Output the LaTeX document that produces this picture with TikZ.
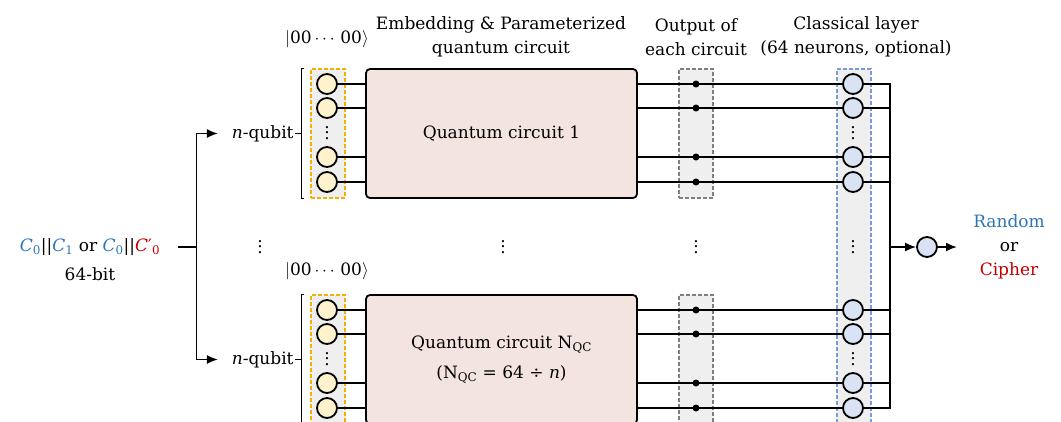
\documentclass[tikz,border=0pt]{standalone}
\usepackage{fontspec}
\usepackage{amsmath}
\setmainfont{DejaVu Serif}
\usetikzlibrary{arrows.meta,positioning}
\definecolor{qubitcolor}{HTML}{FFF2CC}
\definecolor{qubitdash}{HTML}{F5B000}
\definecolor{colcolor}{HTML}{EFEFEF}
\definecolor{outdash}{HTML}{7F7F7F}
\definecolor{neuroncolor}{HTML}{DAE3F3}
\definecolor{neurondash}{HTML}{7A9BD6}
\definecolor{circuitcolor}{HTML}{F4E4E0}
\definecolor{randcolor}{HTML}{2E75B6}
\definecolor{ciphcolor}{HTML}{C00000}
\newcommand{\colvdots}{\vbox{\baselineskip5.5pt\lineskiplimit0pt\hbox{.}\hbox{.}\hbox{.}}}
\newcommand{\cvar}[1]{\textit{C}\textsubscript{#1}}

\begin{document}
\begin{tikzpicture}[x=1pt, y=-1pt, line width=1.8pt,
  every node/.style={font=\fontsize{17}{24}\selectfont},
  qbit/.style={circle, draw, fill=qubitcolor, minimum size=20pt, inner sep=0pt},
  neuron/.style={qbit, fill=neuroncolor},
  col/.style={draw, fill=colcolor, line width=1.1pt, dash pattern=on 4pt off 2pt,
              minimum width=34pt, minimum height=129pt, inner sep=0pt},
  qc/.style={draw, fill=circuitcolor, rounded corners=4pt, minimum width=271pt,
             minimum height=129pt, align=center},
  outdot/.style={circle, fill, inner sep=0pt, minimum size=7pt},
  head/.style={align=center},
  arr/.style={-{Latex[length=11pt,width=9pt]}},
]
  \clip (0,0) rectangle (1061,421);

  % ── Headings ────────────────────
  \node[head] (hqc) at (501,37) {Embedding \& Parameterized\\quantum circuit};
  \node[head] (hout) at (696,37) {Output of\\each circuit};
  \node[head] (hcl) at (856,37) {Classical layer\\(64 neurons, optional)};

  % ── Columns and circuits ────────
  \node[col, draw=neurondash, minimum height=362pt] (nb) at (854,250) {};
  \node[col, draw=qubitdash] (yb1) at (328,133.5) {};
  \node[col, draw=qubitdash] (yb2) at (328,359.5) {};
  \node[col, draw=outdash] (ob1) at (696,133.5) {};
  \node[col, draw=outdash] (ob2) at (696,359.5) {};
  \node[qc] (qc1) at (501.5,133.5) {Quantum circuit 1};
  \node[qc] (qc2) at (501.5,359.5)
        {Quantum circuit N\textsubscript{QC}\\[6pt](N\textsubscript{QC} = 64 ÷ \textit{n})};
  \node (ket1) at (327,39) {$|$00\,$\cdots$\,00$\rangle$};
  \node (ket2) at (327,271) {$|$00\,$\cdots$\,00$\rangle$};

  % ── Qubits, wires, neurons ──────
  \coordinate (bus) at (890,247);
  \foreach \g/\t in {1/69, 2/295} {
    \foreach \i/\dy in {1/15, 2/39, 3/88, 4/113} {
      \node[qbit] (q\g\i) at (327,\t+\dy) {};
      \node[neuron] (n\g\i) at (853,\t+\dy) {};
      \draw (q\g\i) -- (q\g\i -| qc\g.west);
      \draw (q\g\i -| qc\g.east) -- (n\g\i);
      \node[outdot] (d\g\i) at (q\g\i -| ob\g) {};
      \draw (n\g\i) -- (n\g\i -| bus);
    }
    \node (vq\g) at (327,\t+64) {\colvdots};
    \node (vn\g) at (853,\t+64) {\colvdots};
    \draw[line width=1.4pt] ([xshift=-6pt]yb\g.north west) -- ++(-3,0)
          |- ([xshift=-6pt]yb\g.south west);
    \draw[line width=1.4pt] ([xshift=-9pt]yb\g.west) -- ++(-6,0);
    \node[anchor=east, inner sep=1pt] (nq\g) at ([xshift=-15pt]yb\g.west) {\textit{n}-qubit};
  }
  \draw[line cap=rect] (bus |- n11) -- (bus |- n24);

  % ── Input ───────────────────────
  \node (inp) at (90,247) {\textcolor{randcolor}{\cvar{0}}||\textcolor{randcolor}{\cvar{1}} or
        \textcolor{randcolor}{\cvar{0}}||\textcolor{ciphcolor}{\textit{C}′\textsubscript{0}}};
  \node (bits) at (90,274) {64-bit};
  \coordinate (split) at (196.5,247);
  \draw ([xshift=14pt]inp.east) -- (split);
  \draw[arr, shorten >=12pt] (split) |- (nq1.west);
  \draw[arr, shorten >=12pt] (split) |- (nq2.west);

  % ── Middle dots ─────────────────
  \node (vin) at (260,247) {\colvdots};
  \node (vqc) at (503,247) {\colvdots};
  \node (vout) at (696,247) {\colvdots};
  \node (vnn) at (853,247) {\colvdots};

  % ── Output ──────────────────────
  \node[neuron] (outn) at (927,247) {};
  \draw[arr] (bus) -- (outn);
  \coordinate (res) at (957,247);
  \draw[arr] (outn) -- (res);
  \node[align=center] (rc) at (1009,247)
        {\textcolor{randcolor}{Random}\\or\\\textcolor{ciphcolor}{Cipher}};
\end{tikzpicture}
\end{document}
